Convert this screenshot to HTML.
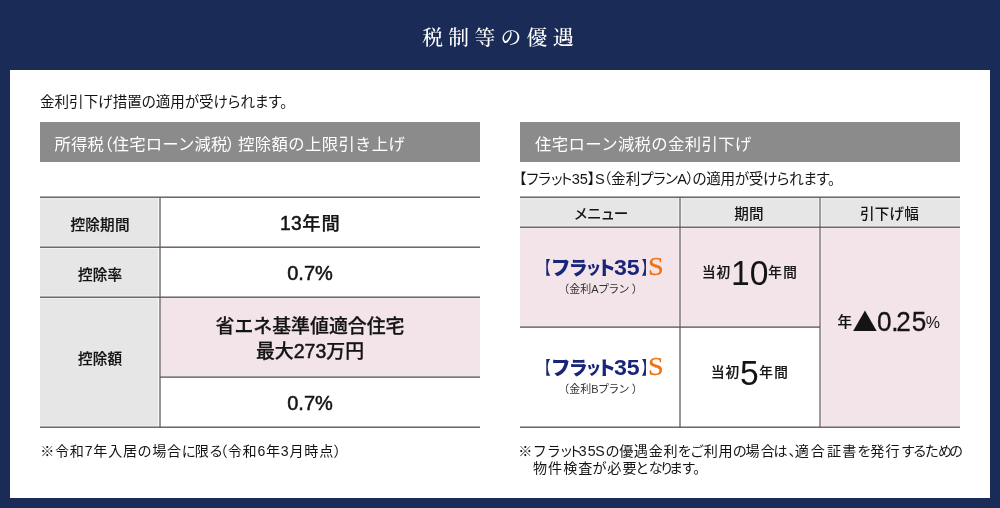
<!DOCTYPE html>
<html lang="ja">
<head>
<meta charset="utf-8">
<title>税制等の優遇</title>
<style>
*{margin:0;padding:0;box-sizing:border-box}
html,body{width:1000px;height:508px;overflow:hidden;background:#192b56}
body{position:relative;font-family:"Liberation Sans","Noto Sans CJK JP",sans-serif;color:#141414;-webkit-font-smoothing:antialiased;font-feature-settings:"palt"}
.abs{position:absolute;white-space:nowrap;line-height:1}
.panel{position:absolute;left:10px;top:70px;width:980px;height:428px;background:#fff}
.title{left:0;width:1000px;top:28px;text-align:center;color:#fff;font-family:"Liberation Serif","Noto Serif CJK JP","Noto Serif CJK SC",serif;font-size:20.8px;letter-spacing:5.3px;font-weight:500;text-indent:1px;font-feature-settings:normal}
.bar{position:absolute;top:122px;height:40px;background:#8b8b8b}
.bartxt{color:#fff;font-size:16.36px;top:136px;font-feature-settings:normal;letter-spacing:.3px}
.bartxt .p{font-feature-settings:"palt"}
.p{font-feature-settings:"palt"}
.lbl{font-size:14.6px;font-weight:500;text-align:center;letter-spacing:.2px;text-indent:.2px;-webkit-text-stroke:.2px #141414}
.val{font-size:18.9px;font-weight:500;text-align:center;font-feature-settings:normal;-webkit-text-stroke:.25px #141414}
.d{font-size:20px;-webkit-text-stroke:.5px #141414}
.logo{left:0;top:0;width:0;height:0;color:#1a2578}
.logo span{position:absolute;white-space:nowrap;line-height:1;transform-origin:0 0}
.logo .lb{font-family:"Liberation Sans","Noto Sans CJK JP",sans-serif;font-weight:900;font-size:17.5px;transform:scaleX(.7)}
.logo .kt{font-family:"Liberation Sans","Noto Sans CJK JP",sans-serif;font-weight:900;font-size:19.5px}
.logo .dg{font-family:"Liberation Sans",sans-serif;font-weight:700;font-size:22.7px;transform:scaleX(1.02)}
.logo .s{font-family:"Liberation Serif",serif;font-weight:400;color:#ee7212;font-size:25.7px;transform:scaleX(1.1);-webkit-text-stroke:.3px #ee7212}
.pc{left:0;top:0;width:0;height:0}
.pc span{position:absolute;white-space:nowrap;line-height:1;transform-origin:0 0}
.pc .kj{font-size:13.6px;font-weight:500;letter-spacing:.9px;font-feature-settings:normal;-webkit-text-stroke:.2px #141414}
.pc .big{font-family:"Liberation Sans",sans-serif;font-size:35px;transform:scaleX(.96)}
.pc .tri{font-family:"Liberation Sans",sans-serif;font-size:35px;transform:scaleX(1.15)}
.pc .num{font-family:"Liberation Sans",sans-serif;font-size:27.5px;letter-spacing:-.4px;transform:scaleX(.95);-webkit-text-stroke:.3px #141414}
.pc .pct{font-family:"Liberation Sans",sans-serif;font-size:16px}
.sub{font-size:11px;color:#333;font-feature-settings:normal}
</style>
</head>
<body>
<div class="panel"></div>
<div class="abs title">税制等の優遇</div>

<div class="abs" id="intro" style="left:40px;top:95px;font-size:14.55px">金利引下げ措置の適用が受けられます。</div>

<div class="bar" style="left:40px;width:440px"></div>
<div class="bar" style="left:520px;width:440px"></div>
<div class="abs bartxt" id="bar1" style="left:54.5px;letter-spacing:.2px">所得税<span class="p">（</span>住宅ローン減税<span class="p" style="margin-left:-1px;margin-right:3px">）</span><span style="letter-spacing:.36px">控除額の上限引き上げ</span></div>
<div class="abs bartxt" id="bar2" style="left:535px;letter-spacing:.38px">住宅ローン減税の金利引下げ</div>

<!-- table backgrounds and grid lines -->
<svg class="abs" style="left:0;top:0" width="1000" height="508" viewBox="0 0 1000 508">
  <g fill="#e6e6e6">
    <rect x="40" y="198.3" width="118.2" height="47.4"/>
    <rect x="40" y="248.5" width="118.2" height="47.2"/>
    <rect x="40" y="298.5" width="118.2" height="127.3"/>
    <rect x="520" y="198.3" width="158.6" height="27.5"/>
    <rect x="681.4" y="198.3" width="137.2" height="27.5"/>
    <rect x="821.4" y="198.3" width="138.6" height="27.5"/>
  </g>
  <g fill="#f3e4ea">
    <rect x="161" y="298.2" width="319" height="77.8"/>
    <rect x="520" y="228.2" width="158.8" height="97.8"/>
    <rect x="681.2" y="228.2" width="137.6" height="97.8"/>
    <rect x="821.2" y="228.2" width="138.8" height="198"/>
  </g>
  <g fill="#8e888b">
    <rect x="159.1" y="197" width="1.8" height="230"/>
    <rect x="819.15" y="197" width="1.7" height="230"/>
  </g>
  <g fill="#6f6a6c">
    <rect x="679.3" y="197" width="1.4" height="230"/>
  </g>
  <g fill="#62585c">
    <rect x="40" y="196.5" width="440" height="1.4"/>
    <rect x="40" y="246.5" width="440" height="1.4"/>
    <rect x="40" y="296.5" width="440" height="1.4"/>
    <rect x="160" y="376.4" width="320" height="1.4"/>
    <rect x="40" y="426.5" width="440" height="1.4"/>
    <rect x="520" y="196.5" width="440" height="1.4"/>
    <rect x="520" y="226.5" width="440" height="1.4"/>
    <rect x="520" y="326.4" width="300" height="1.4"/>
    <rect x="520" y="426.5" width="440" height="1.4"/>
  </g>
</svg>

<!-- left table text -->
<div class="abs lbl" id="l1" style="left:40px;width:120px;top:218px">控除期間</div>
<div class="abs lbl" id="l2" style="left:40px;width:120px;top:268px">控除率</div>
<div class="abs lbl" id="l3" style="left:40px;width:120px;top:352px">控除額</div>
<div class="abs val" id="v1" style="left:160px;width:300px;top:214px;font-size:18.3px;letter-spacing:1.1px"><span class="d" style="font-size:19.3px;letter-spacing:.3px;margin-left:1px">13</span>年間</div>
<div class="abs val" id="v2" style="left:160px;width:300px;top:263px"><span class="d">0.7%</span></div>
<div class="abs val" id="v3" style="left:160px;width:300px;top:318px">省エネ基準値適合住宅</div>
<div class="abs val" id="v4" style="left:160px;width:300px;top:342px">最大<span class="d" style="font-size:19.5px">273</span>万円</div>
<div class="abs val" id="v5" style="left:160px;width:300px;top:393px"><span class="d">0.7%</span></div>
<div class="abs" id="fn1" style="left:40.2px;top:443.8px;font-size:14.1px;letter-spacing:.75px">※令和7年入居の場合<span style="margin-right:-1.5px">に</span>限る<span style="margin-left:-3px">（</span>令和6年3月時点）</div>

<!-- right side text -->
<div class="abs p" id="r0" style="left:519px;top:172px;font-size:14.55px">【フラッ<span style="margin-left:-1.5px">ト</span><span style="margin-left:-.5px">35</span>】S<span style="margin-left:-1px">（</span>金利<span style="letter-spacing:-.6px">プラン</span>A<span style="margin:0 -1.2px 0 -.5px">）</span><span style="letter-spacing:-.3px">の適用が受けられま</span><span style="letter-spacing:-2px">す</span>。</div>
<div class="abs lbl" id="h1" style="left:520.3px;width:160px;top:206.5px;font-feature-settings:normal;letter-spacing:-1.1px;-webkit-text-stroke:0">メニュー</div>
<div class="abs lbl" id="h2" style="left:679px;width:140px;top:206.5px;-webkit-text-stroke:0">期間</div>
<div class="abs lbl" id="h3" style="left:819.4px;width:140px;top:206.5px;-webkit-text-stroke:0">引下げ幅</div>

<div class="abs logo" id="lgA"><span class="lb" style="left:544.3px;top:259.8px">【</span><span class="kt" style="left:552.4px;top:259px;transform:scaleX(1.015)">フ</span><span class="kt" style="left:569.8px;top:258.6px;transform:scaleX(.97)">ラ</span><span class="kt" style="left:586.6px;top:259.8px;font-size:17.4px;transform:scaleX(.885)">ッ</span><span class="kt" style="left:598.7px;top:258.5px;transform:scaleX(.97)">ト</span><span class="dg" style="left:614.2px;top:256px">35</span><span class="lb" style="left:642.2px;top:259.7px">】</span><span class="s" style="left:647.8px;top:254.2px">S</span></div>
<div class="abs sub" id="sbA" style="left:520.5px;width:160px;text-align:center;top:284px">（金利<span style="letter-spacing:-.7px">Aプラン</span><span style="margin-left:2.8px">）</span></div>
<div class="abs logo" id="lgB"><span class="lb" style="left:544.3px;top:359.8px">【</span><span class="kt" style="left:552.4px;top:359px;transform:scaleX(1.015)">フ</span><span class="kt" style="left:569.8px;top:358.6px;transform:scaleX(.97)">ラ</span><span class="kt" style="left:586.6px;top:359.8px;font-size:17.4px;transform:scaleX(.885)">ッ</span><span class="kt" style="left:598.7px;top:358.5px;transform:scaleX(.97)">ト</span><span class="dg" style="left:614.2px;top:356px">35</span><span class="lb" style="left:642.2px;top:359.7px">】</span><span class="s" style="left:647.8px;top:354.2px">S</span></div>
<div class="abs sub" id="sbB" style="left:520.5px;width:160px;text-align:center;top:384px">（金利<span style="letter-spacing:-.7px">Bプラン</span><span style="margin-left:2.8px">）</span></div>

<div class="abs pc" id="pA"><span class="kj" style="left:702px;top:266.4px">当初</span><span class="big" style="left:731px;top:254.8px">10</span><span class="kj" style="left:768.3px;top:266.4px;letter-spacing:1.4px">年間</span></div>
<div class="abs pc" id="pB"><span class="kj" style="left:711px;top:366.4px">当初</span><span class="big" style="left:740px;top:354.8px">5</span><span class="kj" style="left:759.3px;top:366.4px;letter-spacing:1.4px">年間</span></div>

<div class="abs pc" id="rate"><span class="kj" style="left:837.5px;top:315px;font-size:14.55px">年</span><span class="tri" style="left:845.3px;top:301.2px">▲</span><span class="num" style="left:876.5px;top:308px">0.<span style="position:static;margin-left:-2px">2</span><span style="position:static;margin-left:1.6px">5</span></span><span class="pct" style="left:925.7px;top:314.5px">%</span></div>

<div class="abs" id="fn2" style="left:518.2px;top:443px;font-size:14.1px;letter-spacing:1.05px;line-height:16.5px">※<span style="margin-left:0.5px">フ</span><span style="margin-left:1px">ラ</span>ッ<span style="margin-left:-2.8px">ト</span><span style="margin-left:-3.4px">3</span>5<span style="margin-left:-1.2px">S</span>の<span style="margin-left:-1.2px">優</span><span style="margin-left:-0.8px">遇</span>金<span style="margin-left:-0.5px">利</span><span style="margin-left:-0.8px">を</span><span style="margin-left:-1.2px">ご</span><span style="margin-left:-0.3px">利</span><span style="margin-left:-0.5px">用</span><span style="margin-left:-0.6px">の</span><span style="margin-left:-2.2px">場</span>合<span style="margin-left:-2.4px">は</span>、<span style="margin-left:-2px">適</span><span style="margin-left:1px">合</span><span style="margin-left:1px">証</span>書を<span style="margin-left:-1px">発</span>行<span style="margin-left:1px">す</span><span style="margin-left:-2px">る</span><span style="margin-left:-2px">た</span><span style="margin-left:-1.8px">め</span><span style="margin-left:-3.8px">の</span><br><span style="padding-left:14.7px">物件検査<span style="margin-left:-1px">が</span>必要<span style="margin-left:-2px">と</span>な<span style="margin-left:-3px">り</span><span style="margin-left:-4px">ま</span><span style="margin-left:-1px">す</span><span style="margin-left:-3px">。</span></span></div>
</body>
</html>
